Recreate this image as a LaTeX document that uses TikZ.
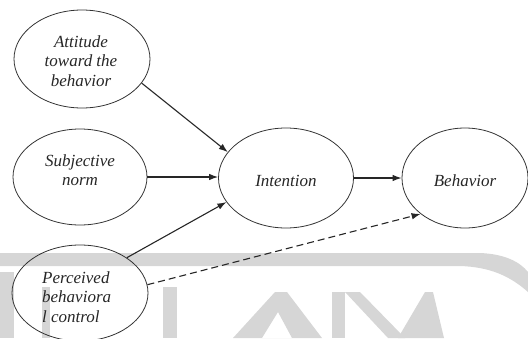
\documentclass[tikz,border=0pt]{standalone}
\usepackage{fontspec}
\setmainfont{Liberation Serif}
\usetikzlibrary{shapes.geometric,arrows.meta}
\begin{document}
\begin{tikzpicture}[x=1pt,y=-1pt,
  ell/.style={ellipse,draw=black!80,line width=0.8pt,inner sep=0pt},
  txt/.style={font=\fontsize{17}{19.5}\selectfont\itshape,text=black!85,inner sep=0pt},
  arr/.style={-{Latex[length=9pt,width=6.5pt]},line width=1.1pt,draw=black!85},
  wm/.style={fill=black!16,draw=none}]
\useasboundingbox (0,0) rectangle (528,338);
% faint watermark
\fill[wm] (0,253) -- (480,253) .. controls (505,254) and (520,262) .. (528,272)
  -- (528,292) .. controls (510,276) and (490,267) .. (460,266) -- (0,266) -- cycle;
\fill[wm] (0,272) rectangle (14,338);
\fill[wm] (42,287) rectangle (50,338);
\fill[wm] (163,287) rectangle (177,338);
\fill[wm,even odd rule] (233,338) -- (275,292) -- (287,292) -- (322,338) -- cycle
  (262,338) -- (278,312) -- (292,338) -- cycle;
\fill[wm] (332,292) rectangle (345,338);
\fill[wm] (345,292) -- (360,292) -- (405,338) -- (388,338) -- cycle;
\fill[wm] (398,338) -- (425,292) -- (433,292) -- (444,338) -- cycle;
% ellipses
\node[ell,minimum width=136pt,minimum height=98pt] (att) at (82,59) {};
\node[ell,minimum width=134pt,minimum height=96pt] (sub) at (80,177) {};
\node[ell,minimum width=136pt,minimum height=96pt] (per) at (80,293) {};
\node[ell,minimum width=135pt,minimum height=100pt] (int) at (286,178) {};
\node[ell,minimum width=126pt,minimum height=100pt] (beh) at (465,178) {};
% texts
\node[txt,align=center] (attt) at (81,61) {Attitude\\toward the\\behavior};
\node[txt,align=center] (subt) at (80,170) {Subjective\\norm};
\node[txt,align=left,anchor=west] (pert) at (42,297) {Perceived\\behaviora\\l control};
\node[txt] (intt) at (286,181) {Intention};
\node[txt] (beht) at (465,181) {Behavior};
% connectors
\draw[arr] (att.-22) -- (int.156);
\draw[arr] (sub.east) -- (sub.east -| int.west);
\draw[arr] (per.37) -- (int.202);
\draw[arr] (int.east) -- (int.east -| beh.west);
\draw[arr,dash pattern=on 7pt off 4pt] (per.7) -- (beh.219);
\end{tikzpicture}
\end{document}
